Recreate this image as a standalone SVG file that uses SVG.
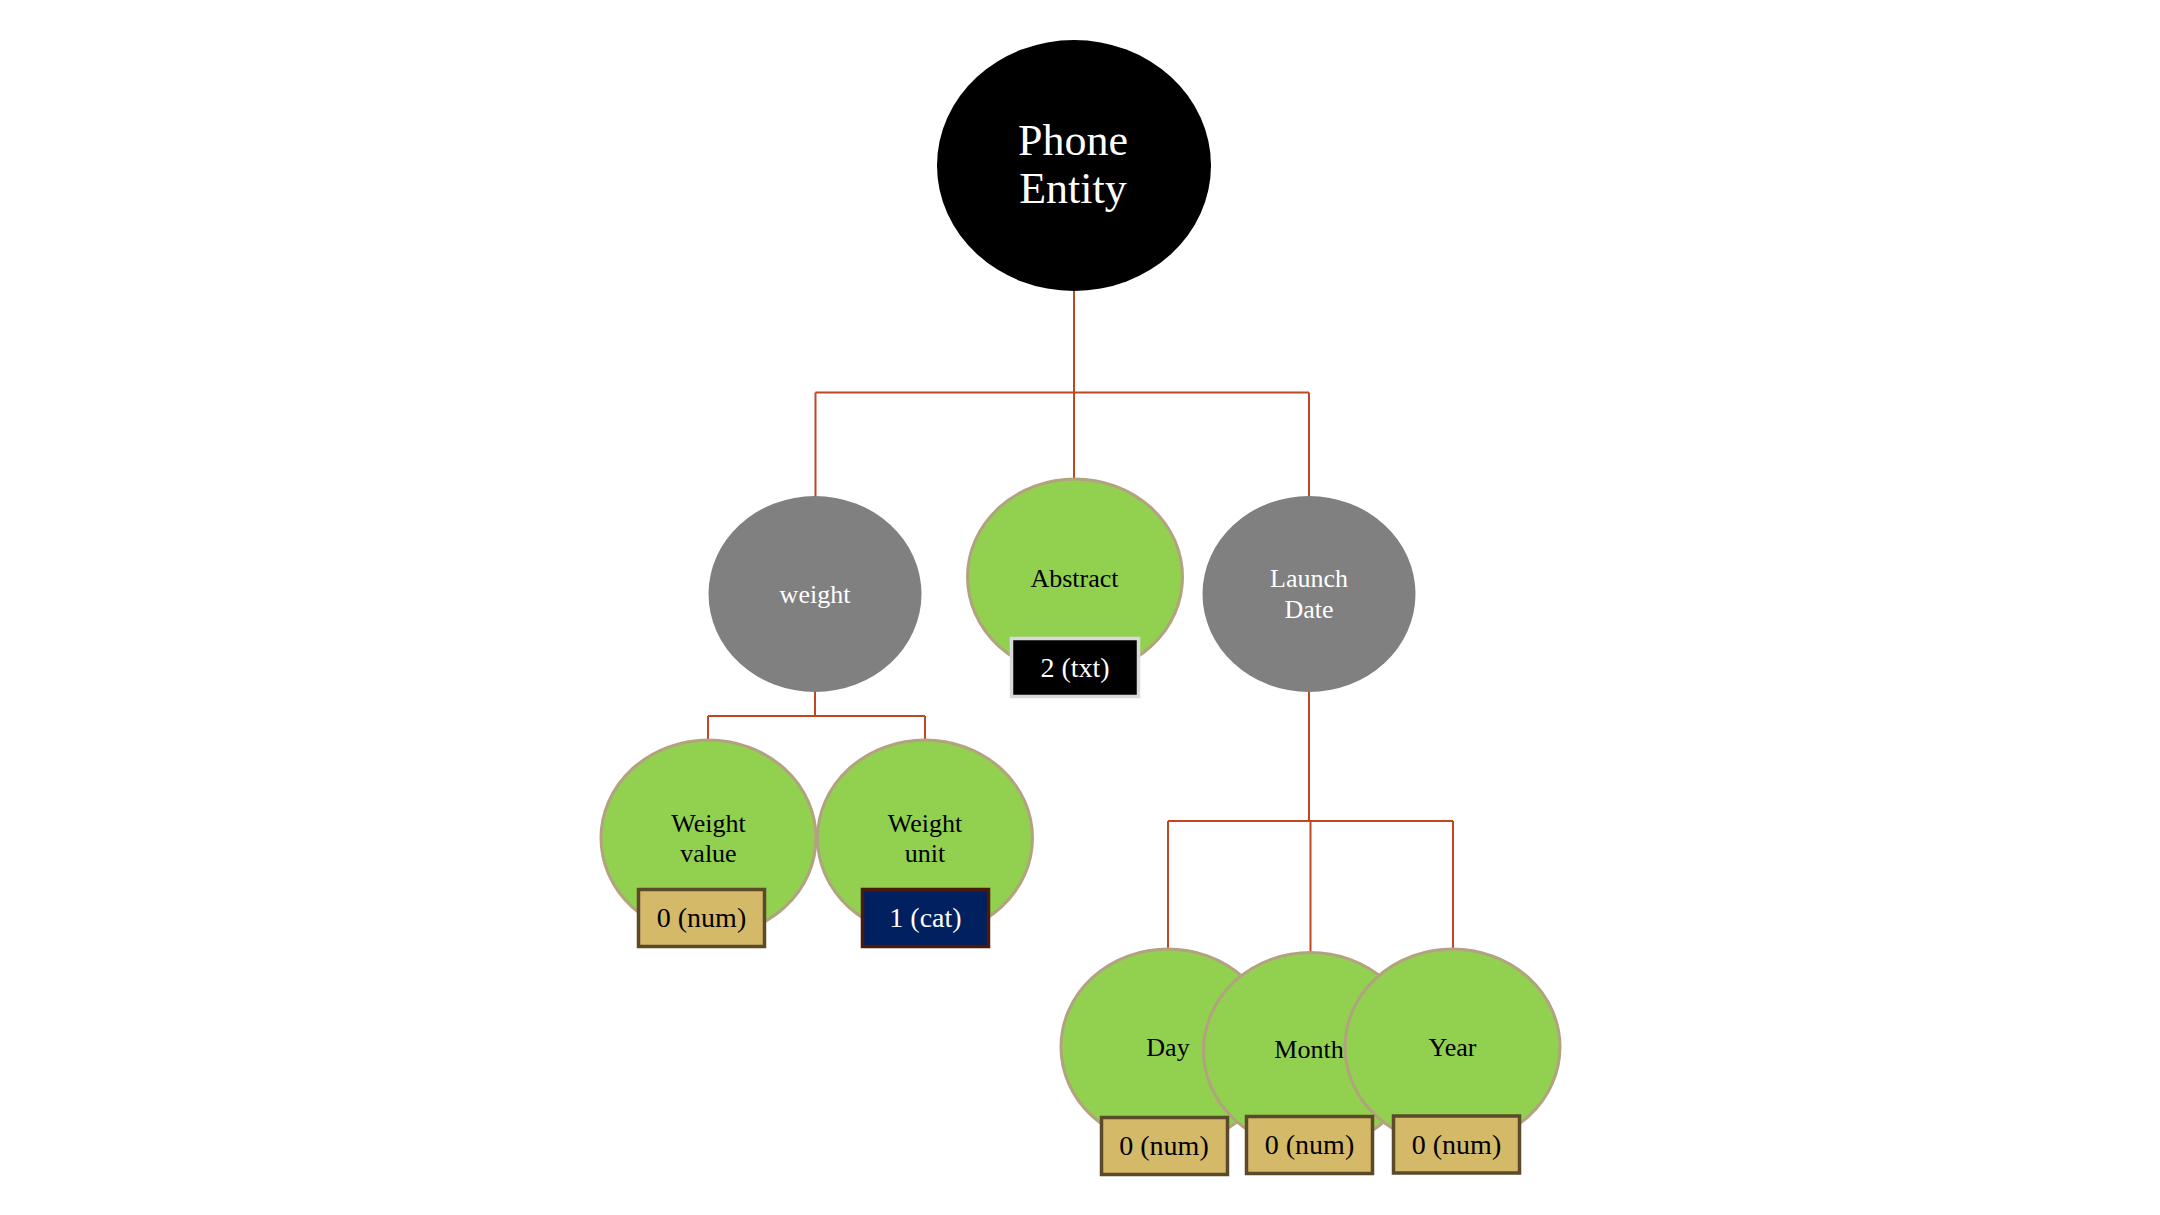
<svg xmlns="http://www.w3.org/2000/svg" width="2160" height="1215" viewBox="0 0 2160 1215">
<style>
.bg{fill:#ffffff}
.conn{fill:none;stroke:#c0471f;stroke-width:2}
.gray{fill:#808080}
.green{fill:#92d050;stroke:#b3a27f;stroke-width:3}
.t{font-family:"Liberation Serif","Times New Roman",serif;text-anchor:middle}
.w{fill:#ffffff}
.k{fill:#000000}
.num{fill:#d4b968;stroke:#5b4a2a;stroke-width:3.5}
.cat{fill:#002060;stroke:#4a1a0e;stroke-width:3.5}
.txt{fill:#000000;stroke:#d9d9d9;stroke-width:3.5}
</style>
<rect class="bg" x="0" y="0" width="2160" height="1215"/>
<g id="connectors">
<path class="conn" d="M1074,291 V392.5 M815.5,392.5 H1309 M815.5,392.5 V496 M1074,392.5 V479 M1309,392.5 V496"/>
<path class="conn" d="M815,692 V716 M708,716 H925 M708,716 V740 M925,716 V740"/>
<path class="conn" d="M1309,692 V821 M1168,821 H1453 M1168,821 V949 M1310.5,821 V953 M1453,821 V949"/>
</g>
<g id="root">
<ellipse cx="1074" cy="165.5" rx="137" ry="125.5" fill="#000000"/>
<text class="t w" x="1073" y="155" font-size="44">Phone</text>
<text class="t w" x="1073" y="203" font-size="44">Entity</text>
</g>
<g id="weight">
<ellipse class="gray" cx="815" cy="594" rx="106.5" ry="98"/>
<text class="t w" x="815" y="603" font-size="26">weight</text>
</g>
<g id="abstract">
<ellipse class="green" cx="1075" cy="577" rx="107.5" ry="98"/>
<text class="t k" x="1074.5" y="587" font-size="26">Abstract</text>
<rect class="txt" x="1011.5" y="638.5" width="127" height="58"/>
<text class="t w" x="1075" y="677" font-size="28">2 (txt)</text>
</g>
<g id="launch-date">
<ellipse class="gray" cx="1309" cy="594" rx="106.5" ry="98"/>
<text class="t w" x="1309" y="587" font-size="26">Launch</text>
<text class="t w" x="1309" y="618" font-size="26">Date</text>
</g>
<g id="weight-value">
<ellipse class="green" cx="708.5" cy="838" rx="107.5" ry="98"/>
<text class="t k" x="708.5" y="832" font-size="26">Weight</text>
<text class="t k" x="708.5" y="862" font-size="26">value</text>
<rect class="num" x="638.5" y="889.5" width="126" height="57"/>
<text class="t k" x="701.5" y="927" font-size="28">0 (num)</text>
</g>
<g id="weight-unit">
<ellipse class="green" cx="925" cy="838" rx="107.5" ry="98"/>
<text class="t k" x="925" y="832" font-size="26">Weight</text>
<text class="t k" x="925" y="862" font-size="26">unit</text>
<rect class="cat" x="862.5" y="889.5" width="126" height="57"/>
<text class="t w" x="925.5" y="927" font-size="28">1 (cat)</text>
</g>
<g id="day">
<ellipse class="green" cx="1168" cy="1047" rx="107" ry="98"/>
<text class="t k" x="1168" y="1056" font-size="26">Day</text>
</g>
<g id="month">
<ellipse class="green" cx="1310.5" cy="1050.5" rx="107" ry="98"/>
<text class="t k" x="1309" y="1058" font-size="26">Month</text>
</g>
<g id="year">
<ellipse class="green" cx="1452.5" cy="1047" rx="107.5" ry="98"/>
<text class="t k" x="1452.5" y="1056" font-size="26">Year</text>
</g>
<g id="day-type">
<rect class="num" x="1101.5" y="1117.5" width="126" height="57"/>
<text class="t k" x="1164" y="1155" font-size="28">0 (num)</text>
</g>
<g id="month-type">
<rect class="num" x="1246.5" y="1116.5" width="126" height="57"/>
<text class="t k" x="1309.5" y="1154" font-size="28">0 (num)</text>
</g>
<g id="year-type">
<rect class="num" x="1393.5" y="1116" width="126" height="57"/>
<text class="t k" x="1456.5" y="1153.5" font-size="28">0 (num)</text>
</g>
</svg>
